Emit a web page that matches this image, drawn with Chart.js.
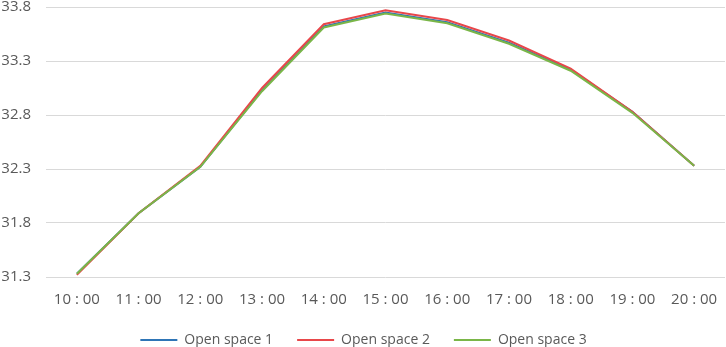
<!DOCTYPE html>
<html>
<head>
<meta charset="utf-8">
<script src="https://cdn.jsdelivr.net/npm/chart.js@4/dist/chart.umd.min.js"></script>
<style>
  html, body { margin: 0; padding: 0; background: #fff; }
  #wrap { width: 726px; height: 347px; }
</style>
</head>
<body>
<div id="wrap"><canvas id="myChart"></canvas></div>
<script>
// values
var hours = ["10 : 00", "11 : 00", "12 : 00", "13 : 00", "14 : 00", "15 : 00",
             "16 : 00", "17 : 00", "18 : 00", "19 : 00", "20 : 00"];
var space1 = [31.33, 31.89, 32.32, 33.03, 33.62, 33.75, 33.66, 33.47, 33.22, 32.83, 32.33];
var space2 = [31.32, 31.89, 32.33, 33.05, 33.64, 33.77, 33.68, 33.49, 33.23, 32.83, 32.33];
var space3 = [31.33, 31.89, 32.32, 33.02, 33.61, 33.74, 33.65, 33.46, 33.21, 32.82, 32.33];

Chart.defaults.font.family = "'Open Sans', 'Liberation Sans', sans-serif";
Chart.defaults.font.size = 15;
Chart.defaults.color = "#595959";

// legend padding is wide (gap between items) but the box itself stays short
var legendHeightFix = {
  id: 'legendHeightFix',
  beforeLayout: function (chart) {
    var lg = chart.legend;
    if (!lg || lg._fixed) return;
    var fit = lg.fit;
    lg.fit = function () {
      fit.call(this);
      this.height = 38;
    };
    lg._fixed = true;
  }
};

var canvas = document.getElementById("myChart");
var myChart = new Chart(canvas, {
  type: 'line',
  data: {
    labels: hours,
    datasets: [
      // green drawn on top, then red, then blue underneath
      { data: space1, label: "Open space 1", borderColor: "#2e75b6", borderWidth: 2, pointRadius: 0, lineTension: 0, fill: false, order: 3 },
      { data: space2, label: "Open space 2", borderColor: "#e8474a", borderWidth: 2, pointRadius: 0, lineTension: 0, fill: false, order: 2 },
      { data: space3, label: "Open space 3", borderColor: "#7ab648", borderWidth: 2, pointRadius: 0, lineTension: 0, fill: false, order: 1 }
    ]
  },
  plugins: [legendHeightFix],
  options: {
    responsive: true,
    maintainAspectRatio: false,
    animation: false,
    layout: { padding: { top: 7, right: 1, left: 2, bottom: 0 } },
    plugins: {
      tooltip: { enabled: false },
      legend: {
        position: 'bottom',
        labels: {
          usePointStyle: true,
          pointStyle: 'line',
          pointStyleWidth: 37,
          padding: 24,
          font: { size: 14 },
          sort: function (a, b) { return a.datasetIndex - b.datasetIndex; }
        }
      }
    },
    scales: {
      x: {
        offset: true,
        grid: { display: false },
        border: { display: false },
        ticks: { maxRotation: 0, autoSkip: false, padding: 6 },
        afterFit: function (scale) { scale.height = 32; }
      },
      y: {
        min: 31.3,
        max: 33.8,
        grid: { color: "#d9d9d9", lineWidth: 1, drawTicks: false },
        border: { display: false },
        ticks: {
          stepSize: 0.5,
          padding: 15,
          callback: function (v) { return v.toFixed(1); }
        },
        afterFit: function (scale) {
          scale.width = 44;
          scale.paddingTop = 0;
          scale.paddingBottom = 0;
        }
      }
    }
  }
});
</script>
</body>
</html>
